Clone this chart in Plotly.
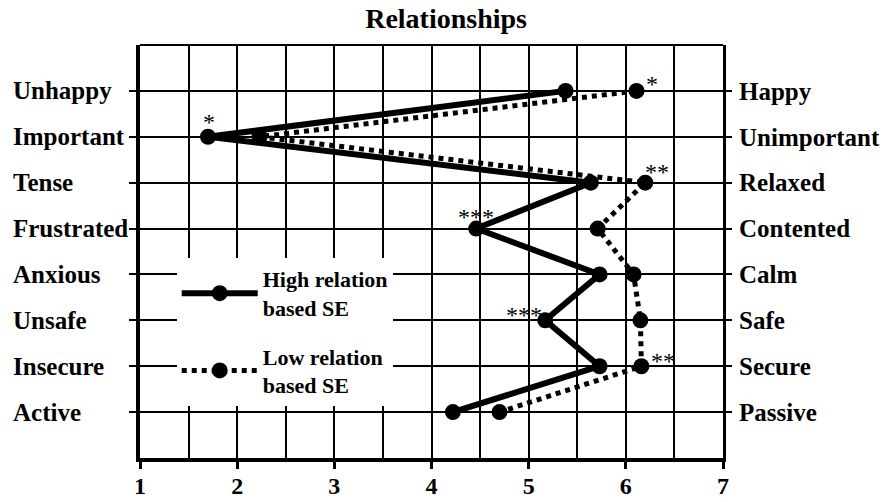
import plotly.graph_objects as go

# ---- data ----
left_labels = ["Unhappy", "Important", "Tense", "Frustrated", "Anxious", "Unsafe", "Insecure", "Active"]
right_labels = ["Happy", "Unimportant", "Relaxed", "Contented", "Calm", "Safe", "Secure", "Passive"]
high_values = [5.38, 1.70, 5.64, 4.46, 5.73, 5.17, 5.73, 4.22]
low_values = [6.11, 2.23, 6.20, 5.71, 6.08, 6.15, 6.16, 4.70]
high_sig = ["", "*", "", "***", "", "***", "", ""]
low_sig = ["*", "", "**", "", "", "", "**", ""]
x_ticks = [1, 2, 3, 4, 5, 6, 7]
title_text = "Relationships"
high_name = "High relation<br>based SE"
low_name = "Low relation<br>based SE"

FONT = "Liberation Serif"

fig = go.Figure()

fig.add_trace(go.Scatter(
    x=low_values, y=left_labels, name=low_name, mode="lines+markers",
    line=dict(color="black", width=5, dash="5px,5px"),
    marker=dict(color="black", size=16), legendrank=2, legendgroup="low",
    hoverinfo="skip"))
fig.add_trace(go.Scatter(
    x=high_values, y=left_labels, name=high_name, mode="lines+markers",
    line=dict(color="black", width=6),
    marker=dict(color="black", size=16), legendrank=1, legendgroup="high",
    hoverinfo="skip"))
# carrier for the right-hand axis
fig.add_trace(go.Scatter(
    x=[None] * len(right_labels), y=right_labels, yaxis="y2", mode="markers",
    showlegend=False, hoverinfo="skip"))

# left labels, left-aligned
for lab in left_labels:
    fig.add_annotation(x=-0.222, xref="paper", xanchor="left", y=lab, yref="y",
                       text=lab, showarrow=False,
                       font=dict(family=FONT, size=25, color="black", weight="bold"))

# significance stars
star_font = dict(family=FONT, size=24, color="#000000")
high_shifts = {1: (1, 15), 3: (0, 12), 5: (-21, 5)}
low_shifts = {0: (15, 7), 2: (12, 11), 6: (22, 5)}
for i, (v, s) in enumerate(zip(high_values, high_sig)):
    if s:
        dx, dy = high_shifts[i]
        fig.add_annotation(x=v, y=left_labels[i], text=s, showarrow=False,
                           xshift=dx, yshift=dy, font=star_font)
for i, (v, s) in enumerate(zip(low_values, low_sig)):
    if s:
        dx, dy = low_shifts[i]
        fig.add_annotation(x=v, y=left_labels[i], text=s, showarrow=False,
                           xshift=dx, yshift=dy, font=star_font)

# top border
fig.add_shape(type="line", xref="paper", yref="paper", x0=0, x1=1, y0=1, y1=1,
              line=dict(color="black", width=2))

fig.update_layout(
    template="none",
    width=889, height=502,
    margin=dict(l=140, r=166, t=45, b=44, autoexpand=False),
    paper_bgcolor="white", plot_bgcolor="white",
    font=dict(family=FONT, color="black"),
    title=dict(text=title_text, x=0.525, xref="paper", xanchor="center",
               y=1 - 18 / 502, yref="container", yanchor="middle",
               font=dict(family=FONT, size=28, color="black", weight="bold")),
    xaxis=dict(range=[1, 7], tickvals=x_ticks, ticks="outside", ticklen=7, tickwidth=3,
               tickcolor="black", showline=True, linecolor="black", linewidth=4,
               showgrid=True, gridcolor="black", gridwidth=1.5, zeroline=False,
               minor=dict(dtick=0.5, showgrid=True, gridcolor="black", gridwidth=1.5, ticks=""),
               automargin=False, ticklabelstandoff=-4,
               tickfont=dict(family=FONT, size=24, color="black", weight="bold")),
    yaxis=dict(type="category", categoryorder="array", categoryarray=left_labels,
               range=[8, -1], showticklabels=False, ticks="outside", ticklen=7, tickwidth=2,
               tickcolor="black", showline=True, linecolor="black", linewidth=4,
               showgrid=True, gridcolor="black", gridwidth=1.5, zeroline=False,
               automargin=False),
    yaxis2=dict(type="category", categoryorder="array", categoryarray=right_labels,
                range=[8, -1], overlaying="y", side="right", ticks="outside", ticklen=6,
                tickwidth=2, tickcolor="black", showline=True, linecolor="black", linewidth=3,
                showgrid=False, zeroline=False, ticklabelstandoff=2, automargin=False,
                tickfont=dict(family=FONT, size=25, color="black", weight="bold")),
    legend=dict(x=0.063, y=0.484, xanchor="left", yanchor="top", bgcolor="white",
                borderwidth=0, tracegroupgap=17, itemwidth=76, traceorder="grouped",
                font=dict(family=FONT, size=22, color="black", weight="bold")),
    showlegend=True,
)

fig.write_html("out.html", config={"displayModeBar": False},
               post_script="document.body.style.margin='0';document.body.style.overflow='hidden';")
